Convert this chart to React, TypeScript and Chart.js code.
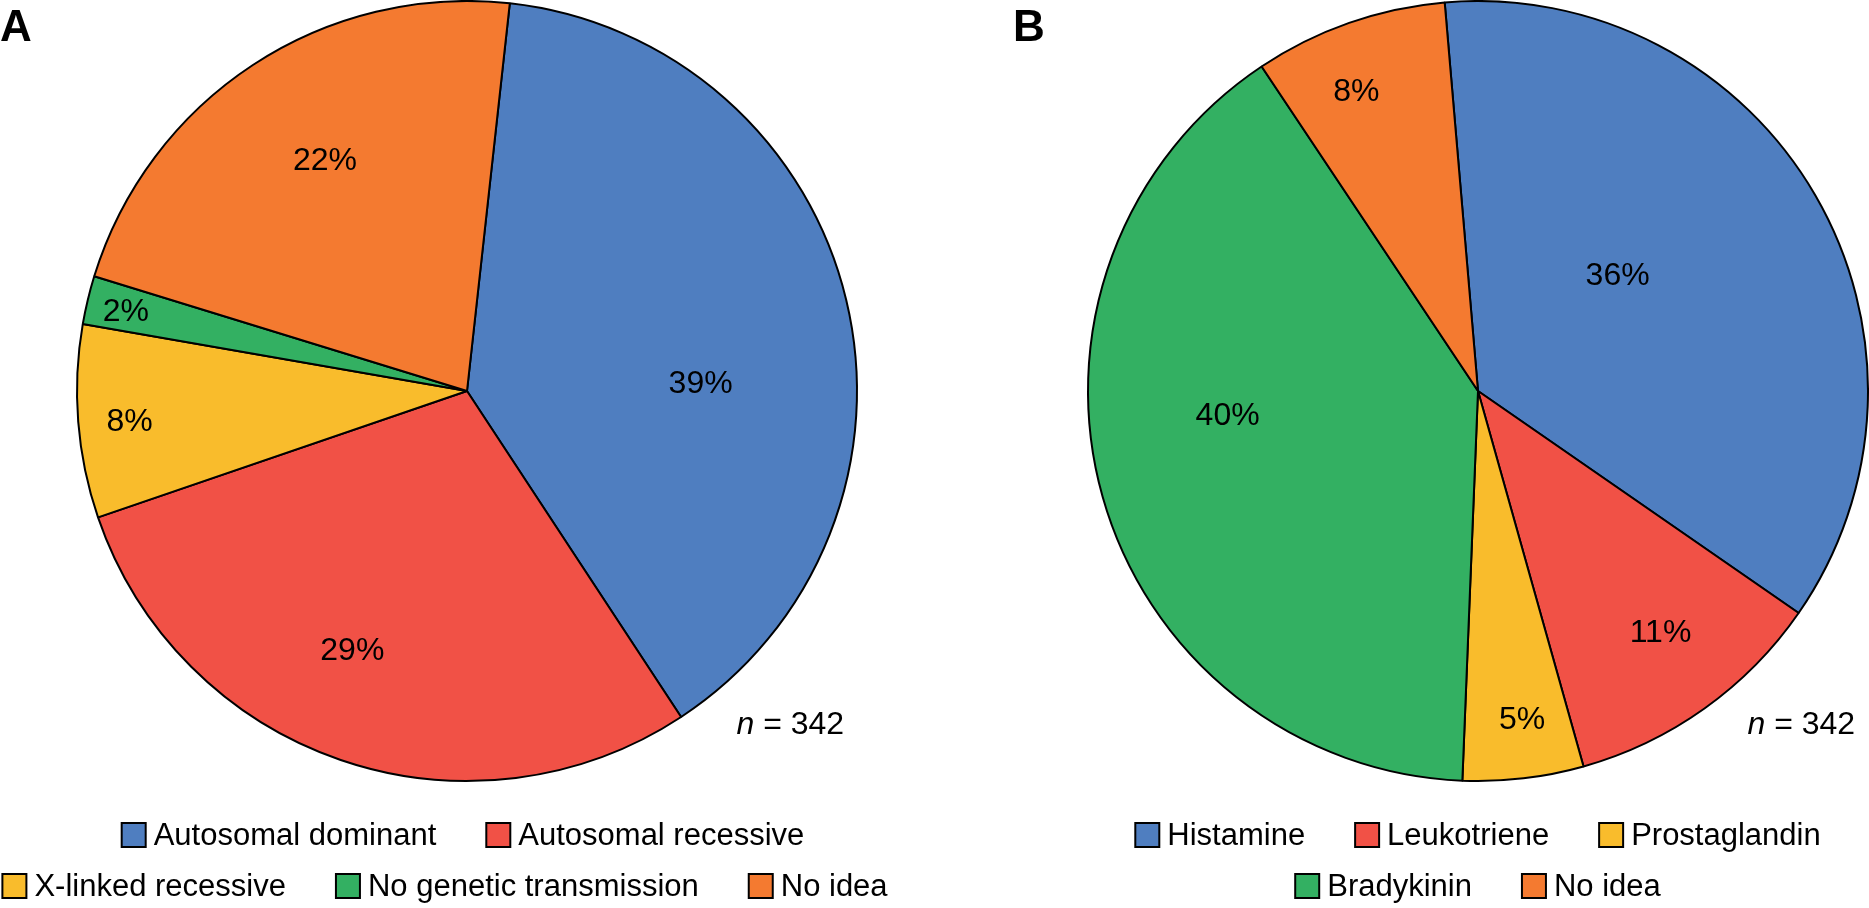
import React, { useEffect, useRef } from 'react';
import { Chart, registerables } from 'chart.js';

Chart.register(...registerables);

// ---------- data ----------
const labelsA = ['Autosomal dominant', 'Autosomal recessive', 'X-linked recessive', 'No genetic transmission', 'No idea'];
const valuesA = [39, 29, 8, 2, 22];
const labelsB = ['Histamine', 'Leukotriene', 'Prostaglandin', 'Bradykinin', 'No idea'];
const valuesB = [36, 11, 5, 40, 8];
const sampleSizeA = 342;
const sampleSizeB = 342;

// ---------- styles ----------
const BLUE = '#4F7EC0';
const RED = '#F15146';
const YELLOW = '#F9BC2C';
const GREEN = '#33B062';
const ORANGE = '#F47A30';
const colorsA = [BLUE, RED, YELLOW, GREEN, ORANGE];
const colorsB = [BLUE, RED, YELLOW, GREEN, ORANGE];

const FONT = '"Liberation Sans", Arial, sans-serif';
const LETTER_FONT = '"Liberation Sans Narrow", "Liberation Sans", Arial, sans-serif';
const FONT_SIZE = 32;
const LEGEND_FONT_SIZE = 31;

// label anchor as fraction of radius relative to pie centre
const labelAnchorA: [number, number][] = [[0.599, -0.018], [-0.294, 0.667], [-0.865, 0.08], [-0.875, -0.202], [-0.364, -0.59]];
const labelAnchorB: [number, number][] = [[0.358, -0.294], [0.468, 0.621], [0.113, 0.844], [-0.642, 0.064], [-0.312, -0.765]];

const legendRowsA = [[0, 1], [2, 3, 4]];
const legendRowsB = [[0, 1, 2], [3, 4]];
const legendRowShiftA = [-4, -22];
const legendRowShiftB = [0, 0];

const CANVAS_W = 934;
const CANVAS_H = 908;

type PanelProps = {
  letter: string;
  labels: string[];
  values: number[];
  colors: string[];
  n: number;
  rotation: number;
  anchors: [number, number][];
  rows: number[][];
  rowShift: number[];
  left: number;
  padLeft: number;
  letterX: number;
};

function Panel(p: PanelProps) {
  const ref = useRef<HTMLCanvasElement>(null);
  useEffect(() => {
    const canvas = ref.current;
    if (!canvas) return;
    const annot = {
      id: 'annot',
      afterDraw(chart: any) {
        const ctx: CanvasRenderingContext2D = chart.ctx;
        const meta = chart.getDatasetMeta(0);
        const first = meta.data[0];
        const cx = first.x;
        const cy = first.y;
        const r = first.outerRadius;
        ctx.save();
        // percentage labels
        ctx.fillStyle = '#000';
        ctx.font = `${FONT_SIZE}px ${FONT}`;
        ctx.textAlign = 'center';
        ctx.textBaseline = 'middle';
        meta.data.forEach((arc: any, i: number) => {
          const [fx, fy] = p.anchors[i];
          ctx.fillText(`${p.values[i]}%`, arc.x + fx * arc.outerRadius, arc.y + fy * arc.outerRadius);
        });
        // n = ...
        ctx.textBaseline = 'alphabetic';
        ctx.textAlign = 'right';
        const rest = ` = ${p.n}`;
        const nx = cx + 0.967 * r;
        const ny = cy + 0.88 * r;
        ctx.font = `${FONT_SIZE}px ${FONT}`;
        ctx.fillText(rest, nx, ny);
        const w = ctx.measureText(rest).width;
        ctx.font = `italic ${FONT_SIZE}px ${FONT}`;
        ctx.fillText('n', nx - w, ny);
        // legend
        ctx.font = `${LEGEND_FONT_SIZE}px ${FONT}`;
        ctx.textAlign = 'left';
        ctx.textBaseline = 'middle';
        const box = 24;
        const textGap = 8;
        const itemGap = 50;
        const rowTops = [823, 874];
        p.rows.forEach((row, ri) => {
          const widths = row.map((i) => box + textGap + ctx.measureText(p.labels[i]).width);
          const total = widths.reduce((a, b) => a + b, 0) + itemGap * (row.length - 1);
          let x = cx - total / 2 + p.rowShift[ri];
          const top = rowTops[ri];
          row.forEach((i, k) => {
            ctx.fillStyle = p.colors[i];
            ctx.fillRect(x, top, box, box);
            ctx.strokeStyle = '#000';
            ctx.lineWidth = 2;
            ctx.strokeRect(x, top, box, box);
            ctx.fillStyle = '#000';
            ctx.fillText(p.labels[i], x + box + textGap, top + box / 2 + 1);
            x += widths[k] + itemGap;
          });
        });
        // panel letter
        ctx.font = `bold 44px ${LETTER_FONT}`;
        ctx.textAlign = 'left';
        ctx.textBaseline = 'alphabetic';
        ctx.fillText(p.letter, p.letterX, 41);
        ctx.restore();
      },
    };
    const chart = new Chart(canvas, {
      type: 'pie',
      data: {
        labels: p.labels,
        datasets: [
          {
            data: p.values,
            backgroundColor: p.colors,
            borderColor: '#000',
            borderWidth: 2,
          },
        ],
      },
      options: {
        animation: false,
        responsive: false,
        devicePixelRatio: 1,
        rotation: p.rotation,
        layout: { padding: { top: 0, bottom: CANVAS_H - 782, left: p.padLeft, right: CANVAS_W - p.padLeft - 782 } },
        plugins: { legend: { display: false }, tooltip: { enabled: false }, title: { display: false } },
        events: [],
      },
      plugins: [annot],
    });
    return () => chart.destroy();
  }, []);
  return (
    <canvas
      ref={ref}
      width={CANVAS_W}
      height={CANVAS_H}
      style={{ position: 'absolute', left: p.left, top: 0, width: CANVAS_W, height: CANVAS_H }}
    />
  );
}

export default function App() {
  return (
    <div style={{ position: 'absolute', left: 0, top: 0, width: 1869, height: 908, background: '#fff', overflow: 'hidden' }}>
      <Panel
        letter="A"
        labels={labelsA}
        values={valuesA}
        colors={colorsA}
        n={sampleSizeA}
        rotation={6.3}
        anchors={labelAnchorA}
        rows={legendRowsA}
        rowShift={legendRowShiftA}
        left={0}
        padLeft={76}
        letterX={0}
      />
      <Panel
        letter="B"
        labels={labelsB}
        values={valuesB}
        colors={colorsB}
        n={sampleSizeB}
        rotation={-4.9}
        anchors={labelAnchorB}
        rows={legendRowsB}
        rowShift={legendRowShiftB}
        left={935}
        padLeft={152}
        letterX={78}
      />
    </div>
  );
}
